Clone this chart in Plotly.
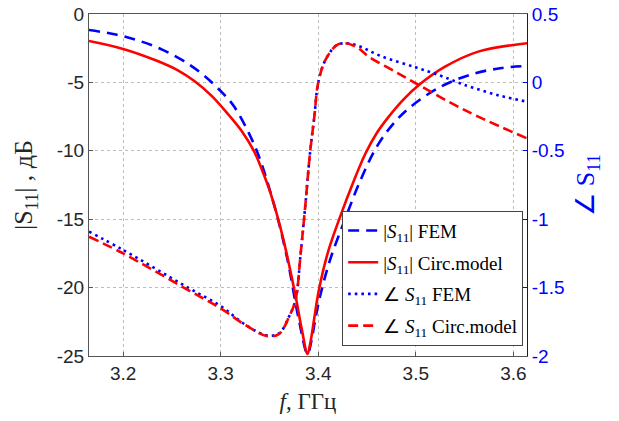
import plotly.graph_objects as go

# ---- data ----
f_mag_circ = [3.165, 3.200, 3.234, 3.257, 3.273, 3.291, 3.3085, 3.322, 3.334, 3.344, 3.352, 3.364, 3.3767,
              3.383, 3.389, 3.392, 3.396, 3.4006, 3.410, 3.422, 3.4364, 3.4484, 3.460, 3.4723, 3.488,
              3.5047, 3.530, 3.564, 3.614]
mag_circ = [-1.97, -2.55, -3.40, -4.15, -4.90, -6.00, -7.40, -8.60, -10.0, -11.7, -13.3, -16.4, -20.6,
            -23.0, -24.85, -24.0, -22.2, -20.2, -17.4, -14.9, -12.2, -10.2, -8.7, -7.5, -6.2,
            -5.1, -3.85, -2.75, -2.14]

f_mag_fem = [3.165, 3.1925, 3.216, 3.240, 3.2624, 3.283, 3.3016, 3.3136, 3.3358, 3.3545, 3.368, 3.380,
             3.389, 3.393, 3.397, 3.402, 3.412, 3.428, 3.443, 3.460, 3.476, 3.4927, 3.5234, 3.5575,
             3.588, 3.614]
mag_fem = [-1.17, -1.50, -1.95, -2.60, -3.45, -4.50, -5.75, -6.75, -9.80, -13.9, -17.8, -22.3,
           -24.85, -23.9, -22.3, -20.6, -18.0, -14.9, -12.2, -9.7, -8.1, -6.9, -5.4, -4.4,
           -3.95, -3.80]

f_ph_fem = [3.165, 3.200, 3.2676, 3.300, 3.3256, 3.3477, 3.360, 3.370, 3.3767, 3.382, 3.387, 3.3915,
            3.396, 3.400, 3.4074, 3.419, 3.428, 3.440, 3.465, 3.500, 3.525, 3.543, 3.557, 3.585, 3.614]
ph_fem = [-1.091, -1.225, -1.505, -1.635, -1.773, -1.850, -1.834, -1.713, -1.59, -1.25, -0.88, -0.52,
          -0.25, 0.0, 0.164, 0.273, 0.286, 0.270, 0.190, 0.110, 0.050, 0.0, -0.035, -0.095, -0.141]

f_ph_circ = [3.165, 3.200, 3.2676, 3.300, 3.3256, 3.3477, 3.360, 3.370, 3.3767, 3.382, 3.387, 3.3915,
             3.396, 3.400, 3.4074, 3.419, 3.428, 3.440, 3.4518, 3.479, 3.503, 3.5337, 3.564, 3.614]
ph_circ = [-1.128, -1.25, -1.522, -1.652, -1.775, -1.855, -1.838, -1.715, -1.59, -1.25, -0.88, -0.52,
           -0.25, 0.0, 0.164, 0.273, 0.286, 0.255, 0.188, 0.078, -0.019, -0.141, -0.25, -0.409]

x_ticks = [3.2, 3.3, 3.4, 3.5, 3.6]
x_ticktext = ["3.2", "3.3", "3.4", "3.5", "3.6"]
y_ticks = [0, -5, -10, -15, -20, -25]
y_ticktext = ["0", "-5", "-10", "-15", "-20", "-25"]
y2_ticks = [0.5, 0, -0.5, -1, -1.5, -2]
y2_ticktext = ["0.5", "0", "-0.5", "-1", "-1.5", "-2"]

names = ["|<i>S</i><sub>11</sub>| FEM", "|<i>S</i><sub>11</sub>| Circ.model",
         "\u2220 <i>S</i><sub>11</sub> FEM", "\u2220 <i>S</i><sub>11</sub> Circ.model"]

BLUE = "rgb(0,0,255)"
RED = "rgb(255,0,0)"
SERIF = "Liberation Serif"
SANS = "Liberation Sans"
AXIS = "#555555"
SM = 1.0

fig = go.Figure()
fig.add_trace(go.Scatter(x=f_mag_fem, y=mag_fem, mode="lines", name=names[0], legendgroup="a",
                         line=dict(color=BLUE, width=2.6, dash="11px,7px", shape="spline", smoothing=SM)))
fig.add_trace(go.Scatter(x=f_mag_circ, y=mag_circ, mode="lines", name=names[1], legendgroup="b",
                         line=dict(color=RED, width=2.6, shape="spline", smoothing=SM)))
fig.add_trace(go.Scatter(x=f_ph_fem, y=ph_fem, mode="lines", name=names[2], legendgroup="c", yaxis="y2",
                         line=dict(color=BLUE, width=2.6, dash="2.6px,4px", shape="spline", smoothing=SM)))
fig.add_trace(go.Scatter(x=f_ph_circ, y=ph_circ, mode="lines", name=names[3], legendgroup="d", yaxis="y2",
                         line=dict(color=RED, width=2.6, dash="10px,5px", shape="spline", smoothing=SM)))

fig.update_layout(
    width=619, height=421,
    margin=dict(l=89, r=92, t=14, b=65, autoexpand=False),
    plot_bgcolor="white", paper_bgcolor="white",
    showlegend=True,
    legend=dict(x=0.578, y=0.425, xanchor="left", yanchor="top",
                bgcolor="white", bordercolor="#444444", borderwidth=1,
                font=dict(family=SERIF, size=19, color="black"),
                tracegroupgap=4, itemwidth=30),
    xaxis=dict(range=[3.165, 3.614], tickvals=x_ticks, ticktext=x_ticktext, automargin=False,
               showline=True, linecolor=AXIS, linewidth=1, mirror=True,
               ticks="inside", ticklen=4, tickcolor=AXIS,
               showgrid=True, gridcolor="#bdbdbd", griddash="dot", gridwidth=1,
               zeroline=False,
               tickfont=dict(family=SANS, size=19, color="#262626"),
               title=dict(text="<i>f</i>, \u0413\u0413\u0446", font=dict(family=SERIF, size=23, color="#262626"),
                          standoff=10)),
    yaxis=dict(range=[-25, 0], tickvals=y_ticks, ticktext=y_ticktext, automargin=False,
               showline=True, linecolor=AXIS, linewidth=1, mirror=False,
               ticks="inside", ticklen=4, tickcolor=AXIS,
               showgrid=True, gridcolor="#bdbdbd", griddash="dot", gridwidth=1,
               zeroline=False,
               tickfont=dict(family=SANS, size=19, color="#262626"),
               title=dict(text="|S<sub>11</sub>| , \u0434\u0411", font=dict(family=SERIF, size=26, color="#262626"),
                          standoff=16)),
    yaxis2=dict(range=[-2, 0.5], tickvals=y2_ticks, ticktext=y2_ticktext, automargin=False,
                overlaying="y", side="right",
                showline=True, linecolor=BLUE, linewidth=1,
                ticks="inside", ticklen=4, tickcolor=BLUE,
                showgrid=False, zeroline=False,
                tickfont=dict(family=SANS, size=19, color=BLUE),
                title=dict(text="\u2220 S<sub>11</sub>", font=dict(family=SERIF, size=26, color=BLUE),
                           standoff=12)),
)

fig.write_html("out.html", config={"displayModeBar": False},
               post_script="document.body.style.margin='0';document.body.style.overflow='hidden';")
